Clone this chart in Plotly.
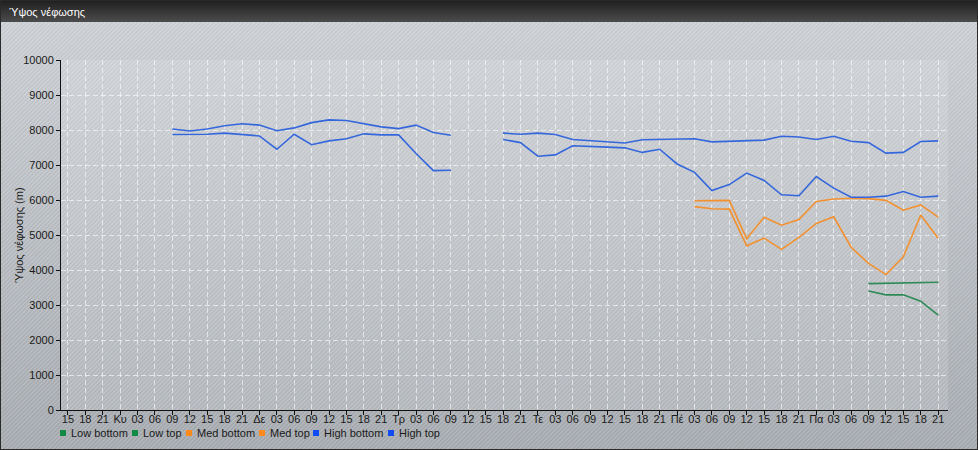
import base64
import pandas as pd
import plotly.graph_objects as go

# ---------------- data ----------------
TITLE = "Ύψος νέφωσης"
Y_TITLE = "Ύψος νέφωσης (m)"

# 3-hourly timestamps of the observations (Κυ 09:00 … Πα 21:00)
times = pd.date_range("2024-03-10 09:00", "2024-03-15 21:00", freq="3h")

# x-axis tick labels (Σα 15:00 … Πα 21:00, every 3 h)
tick_times = pd.date_range("2024-03-09 15:00", "2024-03-15 21:00", freq="3h")
tick_text = ["15", "18", "21",
             "Κυ", "03", "06", "09", "12", "15", "18", "21",
             "Δε", "03", "06", "09", "12", "15", "18", "21",
             "Τρ", "03", "06", "09", "12", "15", "18", "21",
             "Τε", "03", "06", "09", "12", "15", "18", "21",
             "Πέ", "03", "06", "09", "12", "15", "18", "21",
             "Πα", "03", "06", "09", "12", "15", "18", "21"]

high_top = [8030, 7970, 8030, 8120, 8180, 8140, 7980, 8060, 8210, 8290,
            8270, 8170, 8090, 8040, 8140, 7930, 7850,
            None, None,
            7910, 7880, 7910, 7870, 7730, 7690, 7660, 7630, 7720, 7730,
            7760, 7750, 7660, 7680, 7680, 7710, 7820, 7800, 7730, 7820,
            7680, 7640, 7340, 7360, 7670, 7690]
high_bottom = [7870, 7870, 7880, 7910, 7870, 7830, 7450, 7880, 7580, 7690,
               7750, 7890, 7860, 7860, 7330, 6840, 6850,
               None, None,
               7730, 7640, 7250, 7290, 7550, 7540, 7510, 7490, 7360, 7450,
               7030, 6790, 6270, 6440, 6770, 6560, 6150, 6120, 6670, 6340,
               6080, 6080, 6110, 6240, 6080, 6110]
med_top = [5980, 5990, 5990, 4890, 5510, 5280, 5440, 5960, 6030, 6050,
           6040, 5990, 5710, 5860, 5510]
med_bottom = [5810, 5750, 5740, 4690, 4910, 4590, 4930, 5330, 5520, 4650,
              4190, 3870, 4380, 5570, 4910]
low_top = [3610, 3620, 3620, 3630, 3650]
low_bottom = [3400, 3290, 3290, 3110, 2710]

series_names = ["Low bottom", "Low top", "Med bottom", "Med top",
                "High bottom", "High top"]
series_values = [low_bottom, low_top, med_bottom, med_top, high_bottom, high_top]
line_colors = ["#2e8b57", "#2e8b57", "#f39130", "#f39130", "#3567dc", "#3567dc"]
legend_colors = ["#128a44", "#128a44", "#ff8a1c", "#ff8a1c", "#0f4cf2", "#0f4cf2"]

# ---------------- layout geometry ----------------
W, H = 978, 450
ML, MR, MT, MB = 61, 30, 60, 40
PW, PH = W - ML - MR, H - MT - MB


def px_x(x):
    return (x - ML) / PW


def px_y(y):
    return 1 - (y - MT) / PH


svg = f'''<svg xmlns="http://www.w3.org/2000/svg" width="{W}" height="{H}">
<defs>
<linearGradient id="bg" x1="0" y1="0" x2="0" y2="1">
<stop offset="0" stop-color="#cdd1d5"/><stop offset="1" stop-color="#a2a7ac"/>
</linearGradient>
<linearGradient id="tb" x1="0" y1="0" x2="0" y2="1">
<stop offset="0" stop-color="#1e1e1e"/><stop offset="1" stop-color="#4c4c4c"/>
</linearGradient>
<pattern id="st" width="3" height="3" patternUnits="userSpaceOnUse" patternTransform="rotate(45)">
<rect width="1.4" height="3" fill="rgba(255,255,255,0.22)"/>
<rect x="1.5" width="1" height="3" fill="rgba(90,100,120,0.10)"/>
</pattern>
</defs>
<rect width="{W}" height="{H}" fill="url(#bg)"/>
<rect width="{W}" height="{H}" fill="url(#st)"/>
<rect width="{W}" height="22" fill="url(#tb)"/>
<rect x="0.5" y="0.5" width="{W-1}" height="{H-1}" fill="none" stroke="#2a2a2a"/>
</svg>'''
svg_uri = "data:image/svg+xml;base64," + base64.b64encode(svg.encode()).decode()

fig = go.Figure()

for name, vals, col in zip(series_names, series_values, line_colors):
    fig.add_trace(go.Scatter(
        x=times[-len(vals):], y=vals, name=name, mode="lines",
        line=dict(color=col, width=1.6), connectgaps=False, showlegend=False,
        hoverinfo="skip",
    ))

font = "Arial, 'Liberation Sans', sans-serif"

annotations = [
    dict(text=TITLE, xref="paper", yref="paper", x=px_x(7), y=px_y(12),
         xanchor="left", yanchor="middle", showarrow=False,
         font=dict(family=font, size=11, color="white")),
    dict(text=Y_TITLE, xref="paper", yref="paper", x=px_x(19), y=0.5,
         xanchor="center", yanchor="middle", showarrow=False, textangle=-90,
         font=dict(family=font, size=11, color="#1a1a1a")),
]
shapes = [dict(
    type="rect", xref="paper", yref="paper", x0=0, x1=1, y0=0, y1=1,
    fillcolor="rgba(255,255,255,0.13)", line=dict(width=0), layer="below",
)]

# legend (square marker + label)
legend_sq_x = [63, 135, 189, 262, 316, 391]
legend_tx_x = [69, 141, 195, 268, 322, 397]
ly = 433
for name, col, sx, tx in zip(series_names, legend_colors, legend_sq_x, legend_tx_x):
    shapes.append(dict(
        type="rect", xref="paper", yref="paper",
        x0=px_x(sx - 3), x1=px_x(sx + 3), y0=px_y(ly + 3), y1=px_y(ly - 3),
        fillcolor=col, line=dict(width=0),
    ))
    annotations.append(dict(
        text=name, xref="paper", yref="paper", x=px_x(tx), y=px_y(ly),
        xanchor="left", yanchor="middle", showarrow=False,
        font=dict(family=font, size=11, color="#1a1a1a"),
    ))

fig.update_layout(
    width=W, height=H,
    margin=dict(l=ML, r=MR, t=MT, b=MB, pad=0, autoexpand=False),
    paper_bgcolor="#b8bcc0",
    plot_bgcolor="rgba(0,0,0,0)",
    font=dict(family=font, size=11, color="#1a1a1a"),
    showlegend=False,
    images=[dict(
        source=svg_uri, xref="paper", yref="paper",
        x=px_x(0), y=px_y(0), sizex=W / PW, sizey=H / PH,
        xanchor="left", yanchor="top", sizing="stretch", layer="below",
    )],
    shapes=shapes,
    annotations=annotations,
)

fig.update_xaxes(
    type="date",
    range=[pd.Timestamp("2024-03-09 13:48"), pd.Timestamp("2024-03-15 22:42")],
    tickmode="array", tickvals=tick_times, ticktext=tick_text,
    showline=True, linecolor="#111", linewidth=1,
    ticks="outside", ticklen=4, tickcolor="#111", ticklabelstandoff=-5,
    showgrid=True, gridcolor="rgba(255,255,255,0.6)", griddash="5px,3px", gridwidth=1,
    zeroline=False, tickfont=dict(size=11, color="#1a1a1a"),
    fixedrange=True,
)
fig.update_yaxes(
    range=[0, 10000], tickmode="linear", tick0=0, dtick=1000, tickformat="d",
    showline=True, linecolor="#111", linewidth=1,
    ticks="outside", ticklen=4, tickcolor="#111",
    showgrid=True, gridcolor="rgba(255,255,255,0.6)", griddash="5px,3px", gridwidth=1,
    zeroline=False, tickfont=dict(size=11, color="#1a1a1a"),
    fixedrange=True,
)

fig.write_html(
    "out.html",
    config={"displayModeBar": False, "staticPlot": True},
    post_script="document.body.style.margin='0';document.body.style.overflow='hidden';",
)
